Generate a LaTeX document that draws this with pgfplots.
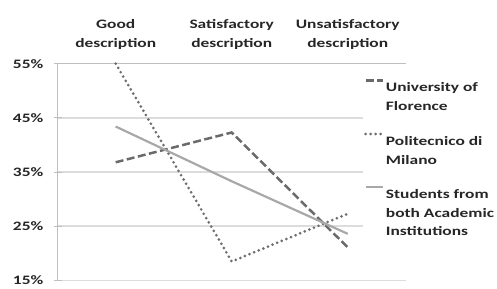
\documentclass[border=0pt]{standalone}
\usepackage{pgfplots}
\pgfplotsset{compat=1.18}
\usepackage{fontspec}
\setmainfont{Carlito}[FakeStretch=1.35]
\definecolor{txt}{HTML}{262626}
\definecolor{gridc}{HTML}{DCDCDC}
\definecolor{axc}{HTML}{BFBFBF}
\definecolor{flor}{HTML}{6A6A6A}
\definecolor{poli}{HTML}{6E6E6E}
\definecolor{both}{HTML}{A8A8A8}
\begin{document}
\begin{tikzpicture}
\begin{axis}[
  scale only axis,
  width=350bp, height=218bp,
  xmin=-0.5, xmax=2.5,
  ymin=15, ymax=55,
  ytick={15,25,35,45,55},
  yticklabel={\pgfmathprintnumber{\tick}\%},
  /pgf/number format/assume math mode=true,
  xtick={0,1,2},
  xticklabels={Good\\description, Satisfactory\\description, Unsatisfactory\\description},
  xticklabel pos=upper,
  extra x ticks={-0.5,0.5,1.5,2.5},
  extra x tick labels={},
  extra x tick style={major tick length=4bp, tick style={axc, line width=1bp}, tick align=center, grid=none},
  major x tick style={draw=none},
  axis x line*=top,
  axis y line*=left,
  axis line style={axc, line width=1bp},
  ymajorgrids,
  grid style={gridc, line width=1.5bp},
  ytick style={axc, line width=1bp},
  major tick length=8bp,
  tick align=center,
  every tick label/.append style={font=\fontsize{13}{18.5}\selectfont\bfseries, text=txt},
  xticklabel style={align=center, yshift=7bp},
  yticklabel style={xshift=-7bp},
  clip=false,
  legend style={at={(rel axis cs:0.877,0.972)}, anchor=north west, draw=none, fill=white,
    font=\fontsize{13}{19}\selectfont\bfseries, text=txt, inner sep=1bp,
    cells={align=left, anchor=north west}, row sep=10bp},
  legend image code/.code={\path (0bp,8.5bp); \draw[#1] (0bp,0bp) -- (17bp,0bp);},
]
\addplot[flor, line width=2.5bp, dash pattern=on 8bp off 3.5bp] coordinates {(0,36.8) (1,42.3) (2,21.1)};
\addlegendentry{University of\\Florence}
\addplot[poli, line width=3bp, line cap=round, dash pattern=on 0bp off 5bp] coordinates {(0,55) (1,18.5) (2,27.3)};
\addlegendentry{Politecnico di\\Milano}
\addplot[both, line width=2.2bp] coordinates {(0,43.4) (1,33.3) (2,23.6)};
\addlegendentry{Students from\\both Academic\\Institutions}
\end{axis}
\path[use as bounding box] ([xshift=-58bp,yshift=-8bp]current axis.south west) rectangle ([xshift=89bp,yshift=64bp]current axis.north east);
\end{tikzpicture}
\end{document}
